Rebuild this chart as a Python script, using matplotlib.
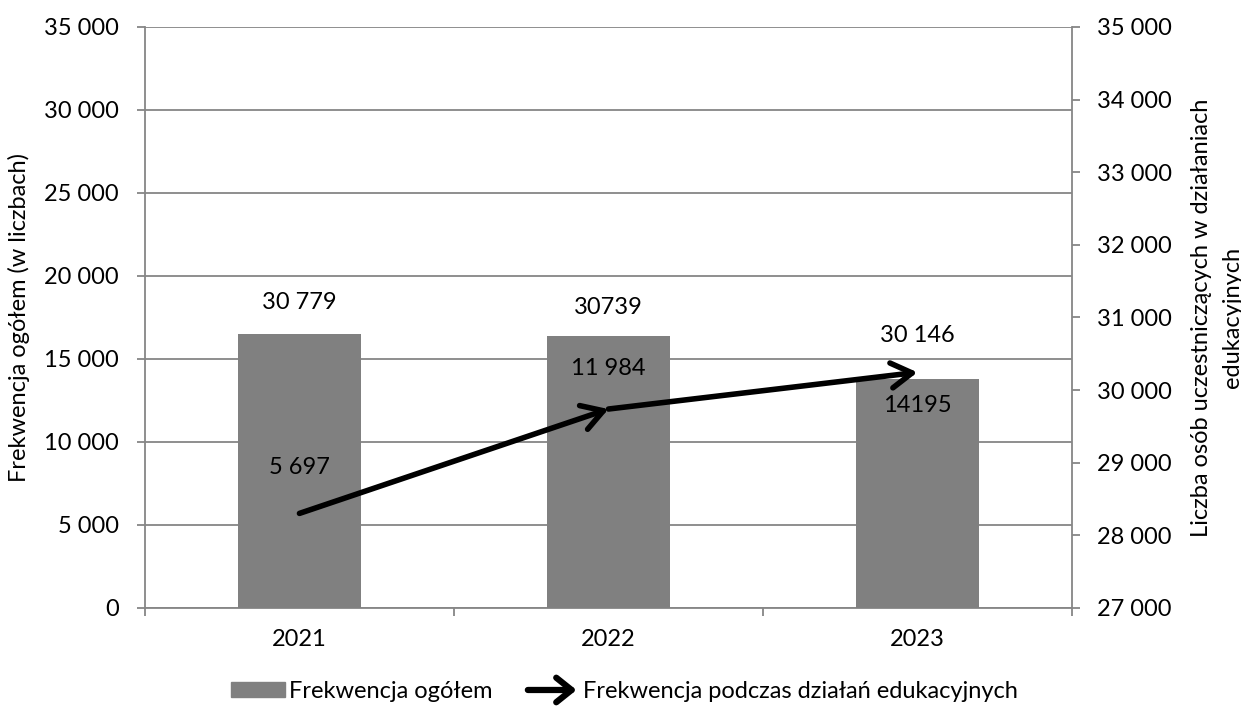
import matplotlib.pyplot as plt
from matplotlib.patches import Patch, FancyArrowPatch
from matplotlib.legend_handler import HandlerBase
from matplotlib.lines import Line2D

plt.rcParams['font.family'] = ['Lato', 'DejaVu Sans']
plt.rcParams['font.size'] = 17

years = ["2021", "2022", "2023"]
total = [30779, 30739, 30146]            # right axis, bars
total_labels = ["30 779", "30739", "30 146"]
edu = [5697, 11984, 14195]               # left axis, line with arrows
edu_labels = ["5 697", "11 984", "14195"]

left_ticks = list(range(0, 35001, 5000))
right_ticks = list(range(27000, 35001, 1000))

def fmt(v):
    return f"{v:,}".replace(",", " ")

GRAY = "#868686"
BAR = "#808080"


class HandlerArrow(HandlerBase):
    def create_artists(self, legend, orig_handle, xdescent, ydescent,
                       width, height, fontsize, trans):
        y = height / 2 - ydescent
        a = FancyArrowPatch((-xdescent, y), (width - xdescent, y),
                            arrowstyle="->, head_length=0.5, head_width=0.4",
                            mutation_scale=fontsize * 1.3, lw=4.5,
                            color="black", transform=trans)
        return [a]


fig = plt.figure(figsize=(12.41, 7.11), dpi=100)
ax = fig.add_axes([0.1168, 0.1449, 0.7470, 0.8172])
ax_bar = ax.twinx()
ax_line = ax.twinx()

x = list(range(len(years)))

# left axis + grid
ax.set_xlim(-0.5, len(years) - 0.5)
ax.set_ylim(left_ticks[0], left_ticks[-1])
ax.set_yticks(left_ticks)
ax.set_yticklabels([fmt(v) for v in left_ticks])
ax.yaxis.grid(True, color=GRAY, lw=1.3)
ax.set_axisbelow(True)
ax.tick_params(axis="y", direction="out", length=6, width=1.3, color=GRAY, pad=13)
ax.set_xticks([i - 0.5 for i in range(len(years) + 1)])
ax.set_xticklabels([])
ax.set_xticks(x, minor=True)
ax.set_xticklabels(years, minor=True)
ax.tick_params(axis="x", which="major", direction="out", length=6, width=1.3, color=GRAY)
ax.tick_params(axis="x", which="minor", length=0, pad=15)
ax.set_ylabel("Frekwencja ogółem (w liczbach)", labelpad=10)
for s in ["top", "right"]:
    ax.spines[s].set_visible(False)
for s in ["left", "bottom"]:
    ax.spines[s].set_color(GRAY)
    ax.spines[s].set_linewidth(1.3)

# bars on right axis
ax_bar.bar(x, total, width=0.4, color=BAR, bottom=0)
ax_bar.set_ylim(right_ticks[0], right_ticks[-1])
ax_bar.set_yticks(right_ticks)
ax_bar.set_yticklabels([fmt(v) for v in right_ticks])
ax_bar.tick_params(axis="y", direction="out", length=6, width=1.3, color=GRAY, pad=12)
ax_bar.set_ylabel("Liczba osób uczestniczących w działaniach\nedukacyjnych",
                  labelpad=14, linespacing=1.55)
for s in ["top", "left", "bottom"]:
    ax_bar.spines[s].set_visible(False)
ax_bar.spines["right"].set_color(GRAY)
ax_bar.spines["right"].set_linewidth(1.3)
bar_off = [22, 21, 32]
for xi, v, lab, off in zip(x, total, total_labels, bar_off):
    ax_bar.annotate(lab, (xi, v), xytext=(0, off), textcoords="offset points",
                    ha="center", va="center")

# arrow line on left scale
ax_line.set_ylim(left_ticks[0], left_ticks[-1])
ax_line.axis("off")
for i in range(len(x) - 1):
    ax_line.annotate("", xy=(x[i + 1], edu[i + 1]), xytext=(x[i], edu[i]),
                     arrowprops=dict(arrowstyle="->, head_length=0.75, head_width=0.45",
                                     mutation_scale=20, lw=4, color="black",
                                     shrinkA=0, shrinkB=0))
line_off = [33, 29.5, -24]
for xi, v, lab, off in zip(x, edu, edu_labels, line_off):
    ax_line.annotate(lab, (xi, v), xytext=(0, off), textcoords="offset points",
                     ha="center", va="center")

handles = [Patch(color=BAR), Line2D([], [], color="black")]
fig.legend(handles, ["Frekwencja ogółem", "Frekwencja podczas działań edukacyjnych"],
           loc="center", bbox_to_anchor=(0.503, 0.027), ncol=2, frameon=False,
           handlelength=2.3, handleheight=0.6, handletextpad=0.15, columnspacing=1.4,
           handler_map={Line2D: HandlerArrow()})

fig.savefig("out.png", dpi=100)
